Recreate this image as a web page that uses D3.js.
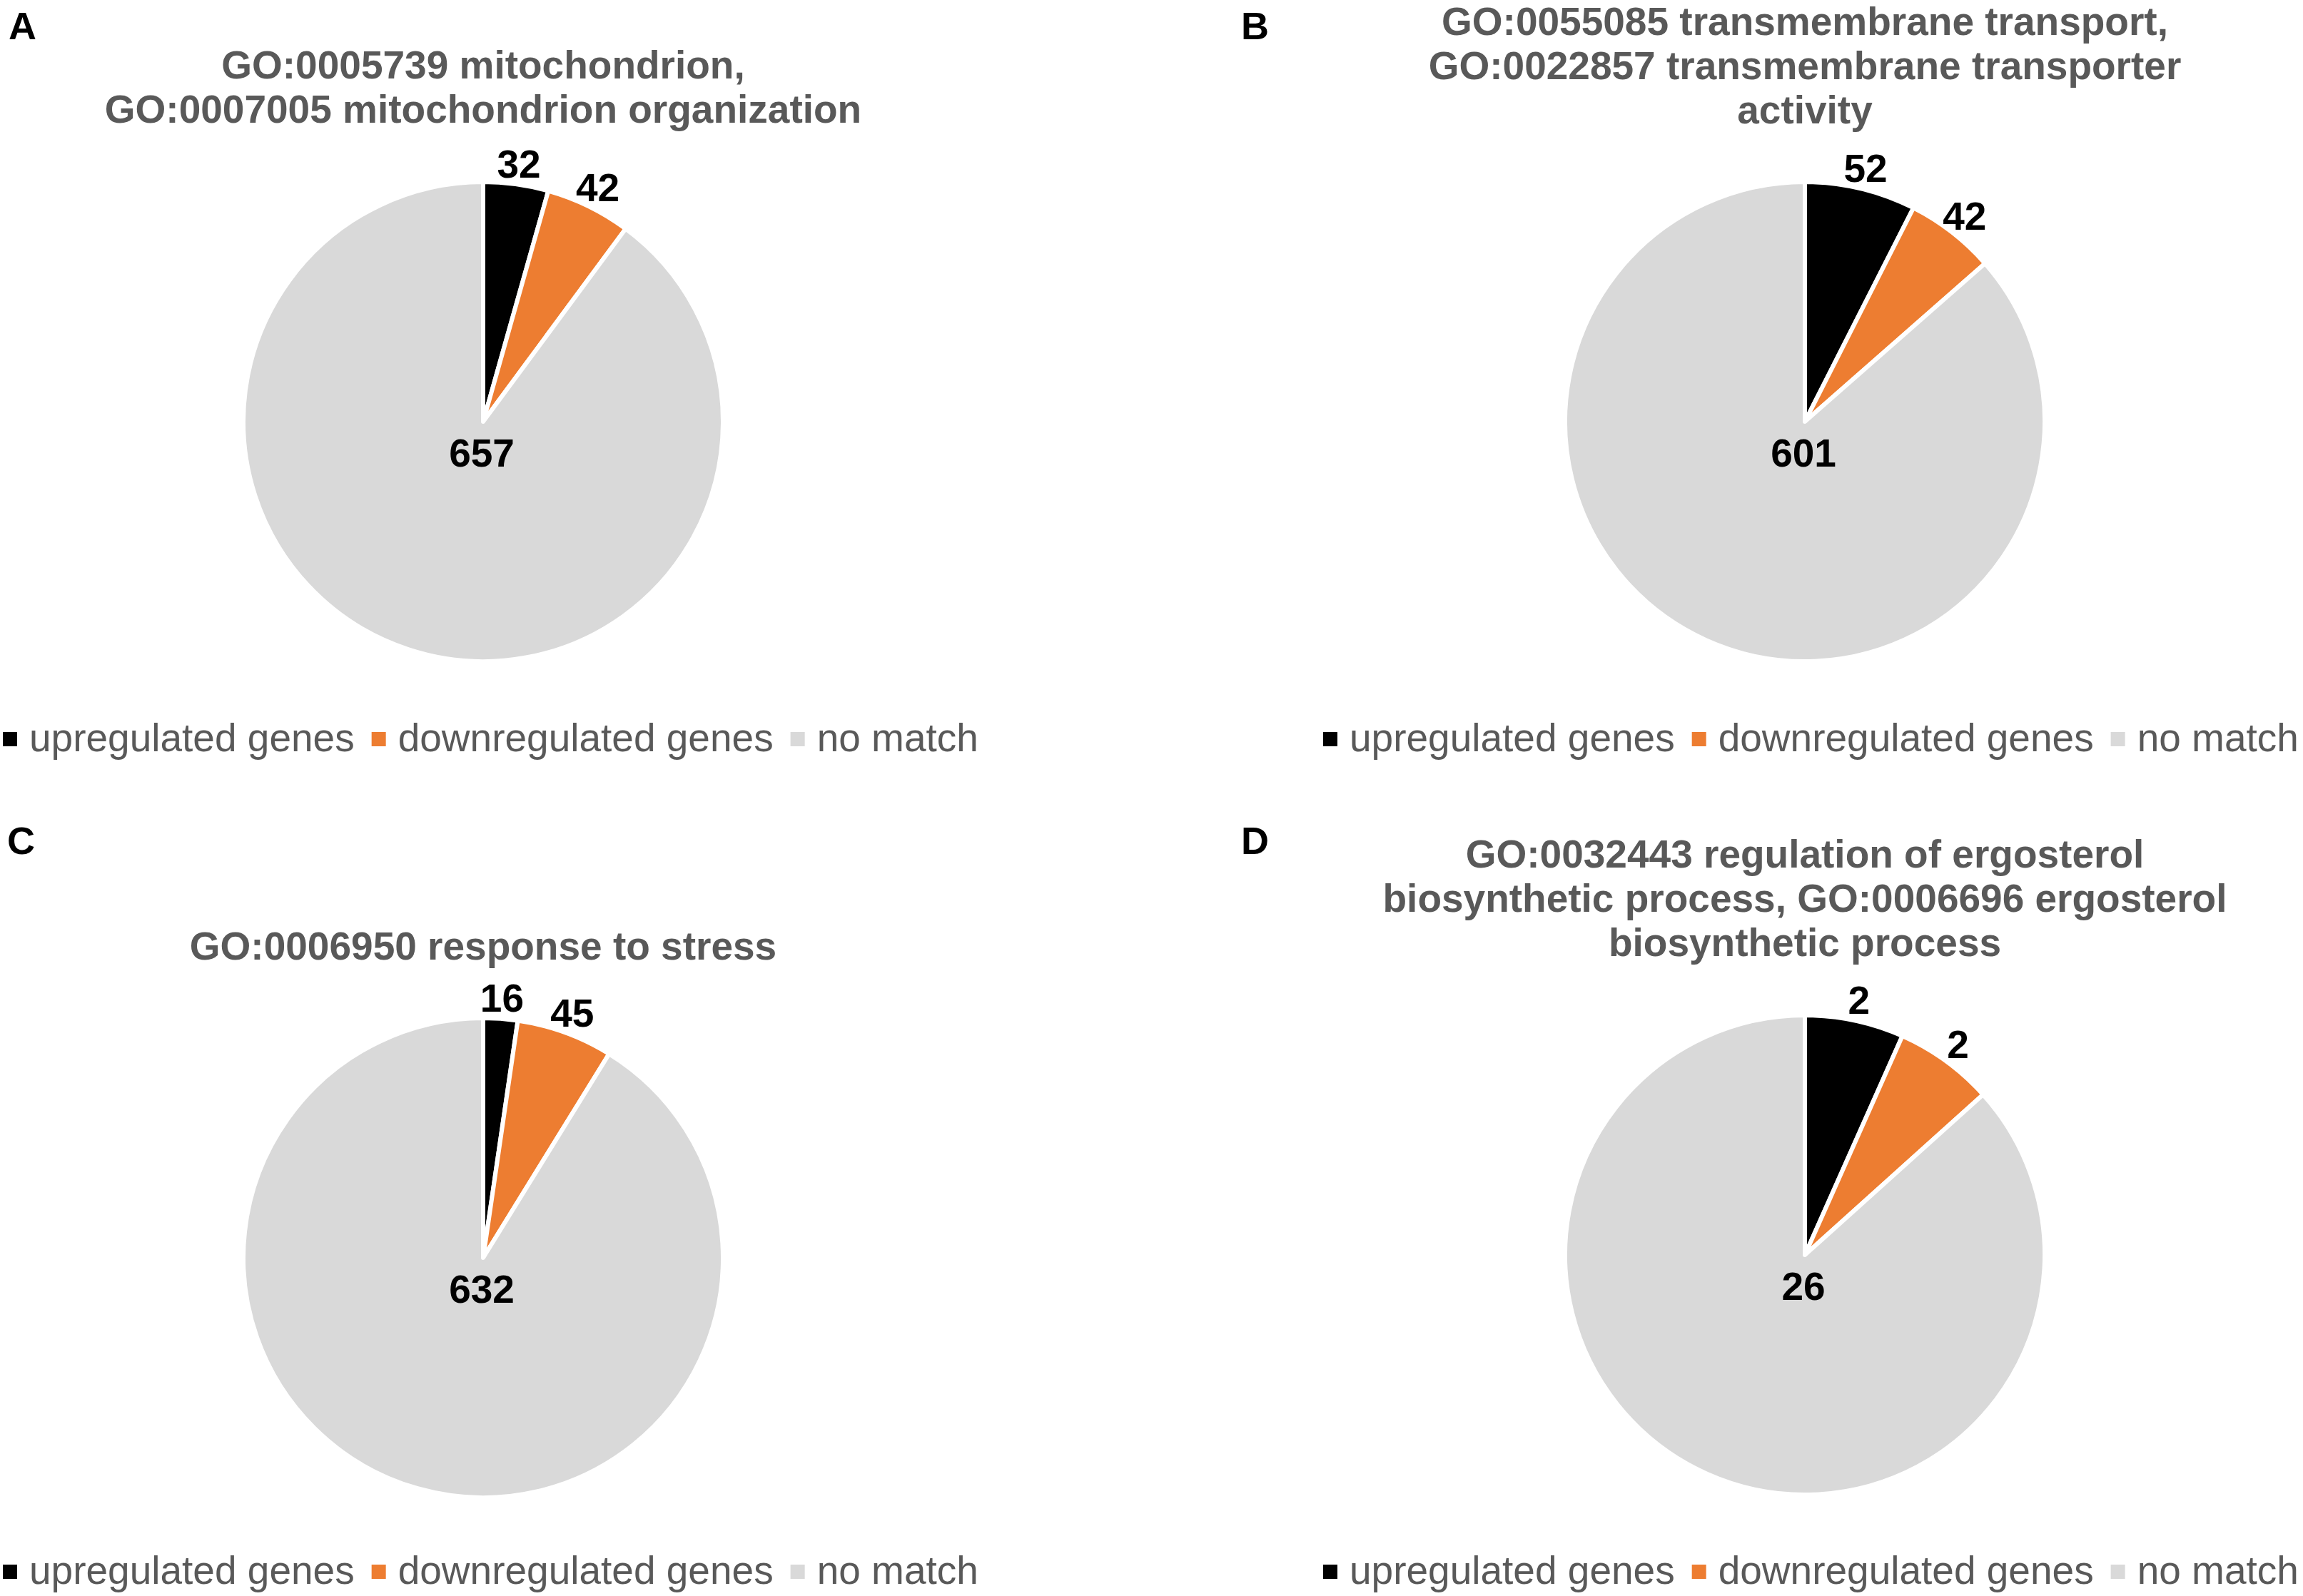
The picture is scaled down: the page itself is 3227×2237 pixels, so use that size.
<!DOCTYPE html>
<html>
<head>
<meta charset="utf-8">
<script src="https://d3js.org/d3.v7.min.js"></script>
<title>GO term pies</title>
<style>
  body { margin: 0; background: #fff; }
  svg { display: block; }
  text { font-family: "Liberation Sans", Arial, sans-serif; }
</style>
</head>
<body>
<svg width="3227" height="2237"></svg>
<script>

// ---- data ----
const categories = ["upregulated genes", "downregulated genes", "no match"];
const colors = ["#000000", "#ED7D31", "#D9D9D9"];

const panelLetters = ["A", "B", "C", "D"];
const panelTitles = [
  ["GO:0005739 mitochondrion,", "GO:0007005 mitochondrion organization"],
  ["GO:0055085 transmembrane transport,", "GO:0022857 transmembrane transporter", "activity"],
  ["GO:0006950 response to stress"],
  ["GO:0032443 regulation of ergosterol", "biosynthetic process, GO:0006696 ergosterol", "biosynthetic process"]
];
const upregulated   = [32, 52, 16, 2];
const downregulated = [42, 42, 45, 2];
const noMatch       = [657, 601, 632, 26];

// ---- layout ----
const panels = [
  {cx: 677,  cy: 591,  titleBottom: 172,  legendY: 1053, legendX: 4,    letterX: 12,   letterY: 55},
  {cx: 2529, cy: 591,  titleBottom: 173,  legendY: 1053, legendX: 1854, letterX: 1739, letterY: 55},
  {cx: 677,  cy: 1763, titleBottom: 1345, legendY: 2220, legendX: 4,    letterX: 10,   letterY: 1197},
  {cx: 2529, cy: 1759, titleBottom: 1340, legendY: 2220, legendX: 1854, letterX: 1739, letterY: 1197}
];

const radius = 336;
const labelRadius = 365;
const lineStep = 62;

const svg = d3.select("svg");

const pie = d3.pie().sort(null).value(d => d.value);
const arc = d3.arc().innerRadius(0).outerRadius(radius);
const labelArc = d3.arc().innerRadius(labelRadius).outerRadius(labelRadius);

panels.forEach(function(p, i) {
  let values = [upregulated[i], downregulated[i], noMatch[i]];
  let data = values.map((v, k) => ({key: categories[k], value: v, color: colors[k]}));

  // panel letter
  svg.append("text")
    .attr("x", p.letterX)
    .attr("y", p.letterY)
    .attr("font-size", 54)
    .attr("font-weight", "bold")
    .attr("fill", "#000")
    .text(panelLetters[i]);

  // title
  let lines = panelTitles[i];
  let title = svg.append("text")
    .attr("text-anchor", "middle")
    .attr("font-size", 55)
    .attr("font-weight", "bold")
    .attr("fill", "#595959");
  lines.forEach(function(line, j) {
    title.append("tspan")
      .attr("x", p.cx)
      .attr("y", p.titleBottom - (lines.length - 1 - j) * lineStep)
      .text(line);
  });

  // pie
  let g = svg.append("g").attr("transform", "translate(" + p.cx + "," + p.cy + ")");
  let arcs = pie(data);

  g.selectAll("path")
    .data(arcs)
    .enter().append("path")
    .attr("d", arc)
    .attr("fill", d => d.data.color)
    .attr("stroke", "#fff")
    .attr("stroke-width", 6)
    .attr("stroke-linejoin", "round");

  // labels: small slices outside end, big slice inside below centre
  g.selectAll("text.lbl")
    .data(arcs)
    .enter().append("text")
    .attr("class", "lbl")
    .attr("transform", function(d, k) {
      if (k < 2) return "translate(" + labelArc.centroid(d) + ")";
      return "translate(-2,44)";
    })
    .attr("dy", "0.35em")
    .attr("text-anchor", "middle")
    .attr("font-size", 55)
    .attr("font-weight", "bold")
    .attr("fill", "#000")
    .text(d => d.data.value);

  // legend
  let lx = p.legendX;
  categories.forEach(function(c, k) {
    svg.append("rect")
      .attr("x", lx)
      .attr("y", p.legendY - 27)
      .attr("width", 20)
      .attr("height", 20)
      .attr("fill", colors[k]);
    let t = svg.append("text")
      .attr("x", lx + 37)
      .attr("y", p.legendY)
      .attr("font-size", 55)
      .attr("fill", "#595959")
      .text(c);
    lx = lx + 37 + t.node().getComputedTextLength() + 24;
  });
});

</script>
</body>
</html>
